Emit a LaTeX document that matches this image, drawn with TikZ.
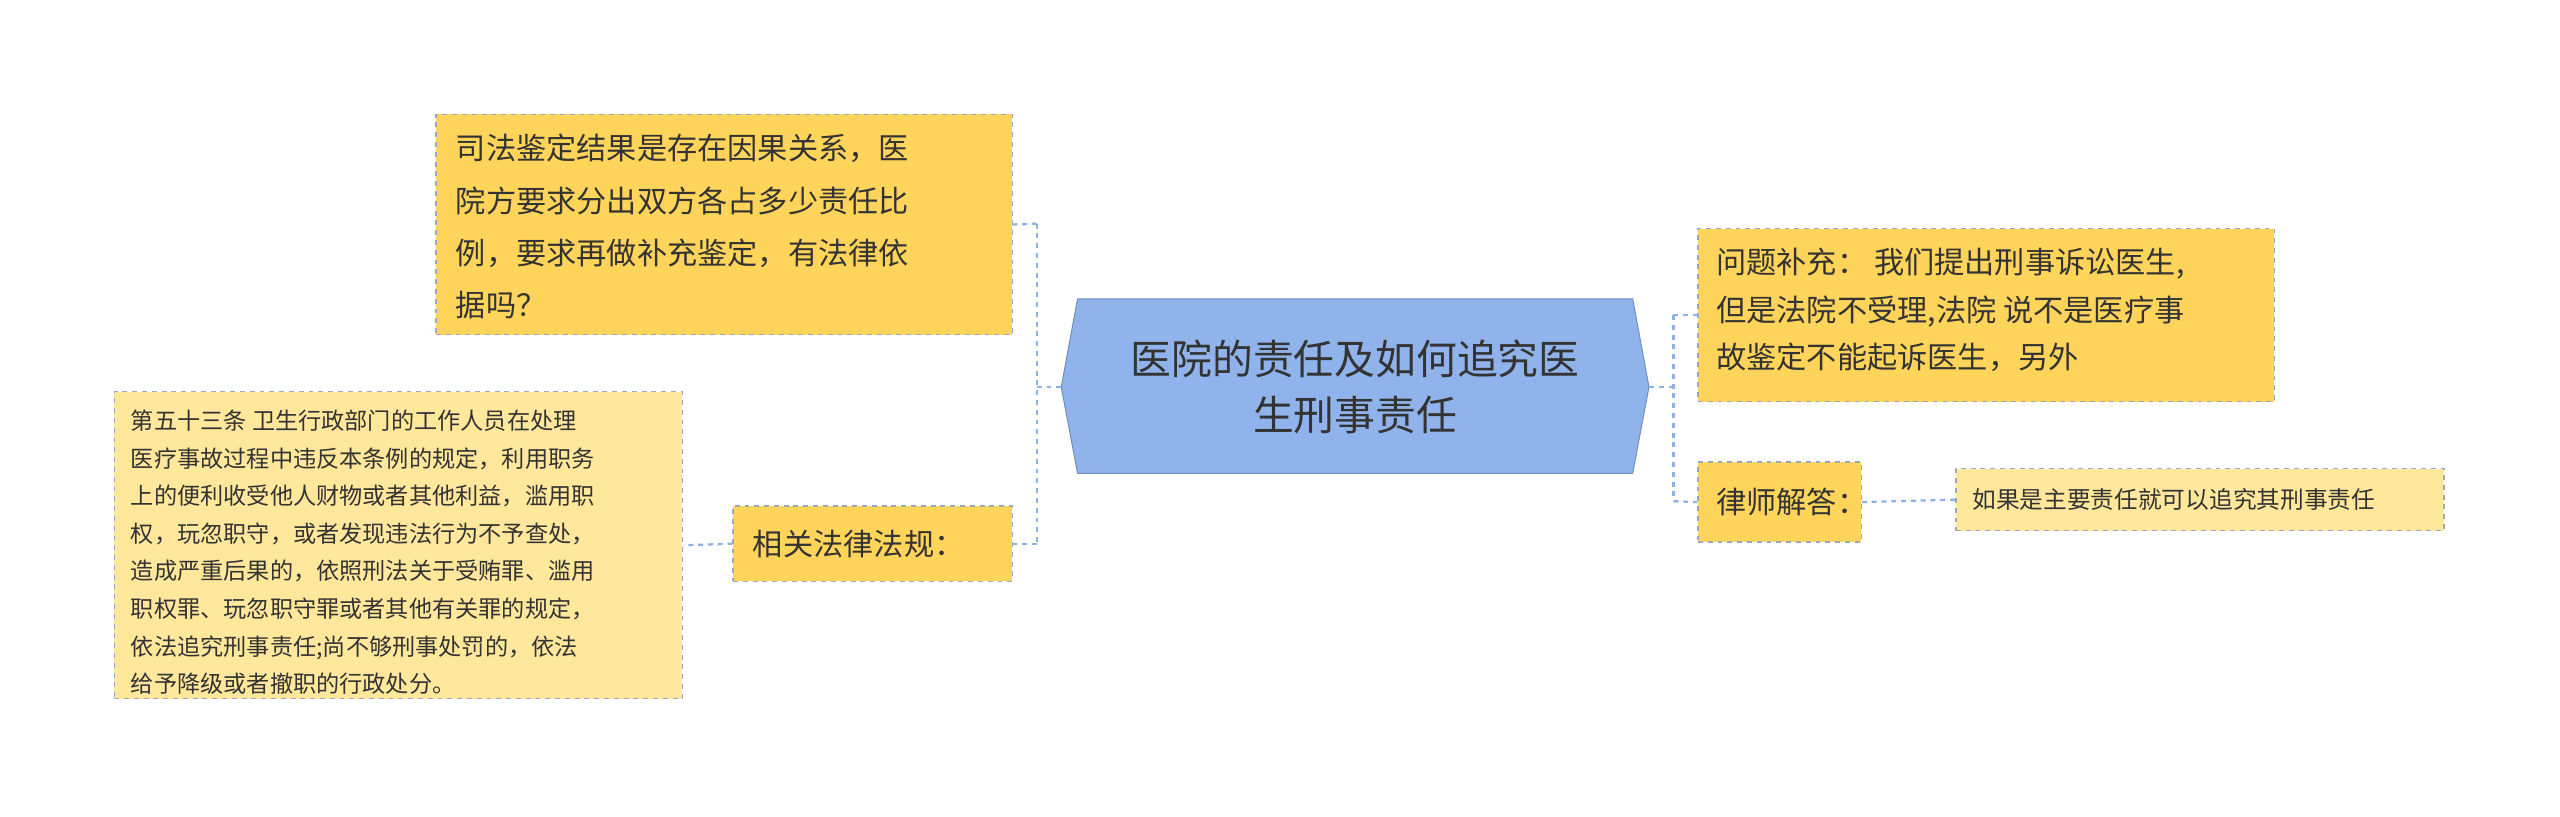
\documentclass[tikz,border=0pt]{standalone}
\usepackage{fontspec}
\newfontfamily\cjk{Noto Sans CJK SC}
\begin{document}
\begin{tikzpicture}[x=1pt,y=-1pt,
  box/.style={draw=boxline,dashed,line width=0.8pt,fill=#1,inner sep=0pt},
  txt/.style={inner sep=0pt,align=left,anchor=north west,text=textc},
  conn/.style={draw=connc,dashed,line width=1.4pt}]
\definecolor{boxline}{HTML}{9AA8C0}
\definecolor{yel}{HTML}{FFD45A}
\definecolor{lyel}{HTML}{FFE89C}
\definecolor{blu}{HTML}{8FB3EA}
\definecolor{connc}{HTML}{8FB0E4}
\definecolor{textc}{HTML}{333333}
\useasboundingbox (0,0) rectangle (1568,500);
\cjk
% center
\draw[draw=blu!80!black,fill=blu,line width=0.6pt] (660,183)--(1000,183)--(1010,237)--(1000,290)--(660,290)--(650,237)--cycle;
\node[inner sep=0pt,align=center,text=textc,font=\fontsize{25}{34}\selectfont] (c) at (830,237) {医院的责任及如何追究医\\生刑事责任};
\coordinate (cl) at (650,237);
\coordinate (cr) at (1010,237);
% boxes
\node[box=yel,minimum width=353,minimum height=135] (a) at (443.5,137.5) {};
\node[txt,font=\fontsize{18.5}{32}\selectfont] at (279,82) {司法鉴定结果是存在因果关系，医\\院方要求分出双方各占多少责任比\\例，要求再做补充鉴定，有法律依\\据吗？};
\node[box=yel,minimum width=171,minimum height=46] (b) at (534.5,333) {};
\node[txt,anchor=west,font=\fontsize{18.5}{24}\selectfont] at (461,333) {相关法律法规：};
\node[box=lyel,minimum width=348,minimum height=188] (l) at (244,334) {};
\node[txt,font=\fontsize{14.2}{23}\selectfont] at (80,251) {第五十三条 卫生行政部门的工作人员在处理\\医疗事故过程中违反本条例的规定，利用职务\\上的便利收受他人财物或者其他利益，滥用职\\权，玩忽职守，或者发现违法行为不予查处，\\造成严重后果的，依照刑法关于受贿罪、滥用\\职权罪、玩忽职守罪或者其他有关罪的规定，\\依法追究刑事责任;尚不够刑事处罚的，依法\\给予降级或者撤职的行政处分。};
\node[box=yel,minimum width=353,minimum height=106] (r) at (1216.5,193) {};
\node[txt,font=\fontsize{18.5}{29}\selectfont] at (1051,152) {问题补充：\ 我们提出刑事诉讼医生,\\但是法院不受理,法院 说不是医疗事\\故鉴定不能起诉医生，另外};
\node[box=yel,minimum width=100,minimum height=49] (s) at (1090,307.5) {};
\node[txt,anchor=west,font=\fontsize{18.5}{24}\selectfont] at (1051,307.5) {律师解答：};
\node[box=lyel,minimum width=299,minimum height=38] (t) at (1347.5,306) {};
\node[txt,anchor=west,font=\fontsize{14.5}{20}\selectfont] at (1208,306) {如果是主要责任就可以追究其刑事责任};
% connectors
\draw[conn] (cl) -- (635,237) (635,137) -- (635,333);
\draw[conn] (635,137) -- (a.east);
\draw[conn] (635,333) -- (b.east);
\draw[conn] (b.west) -- (l.east);
\draw[conn] (cr) -- (1025,237) (1025,193) -- (1025,307);
\draw[conn] (1025,193) -- (r.west);
\draw[conn] (1025,307) -- (s.west);
\draw[conn] (s.east) -- (t.west);
\end{tikzpicture}
\end{document}
